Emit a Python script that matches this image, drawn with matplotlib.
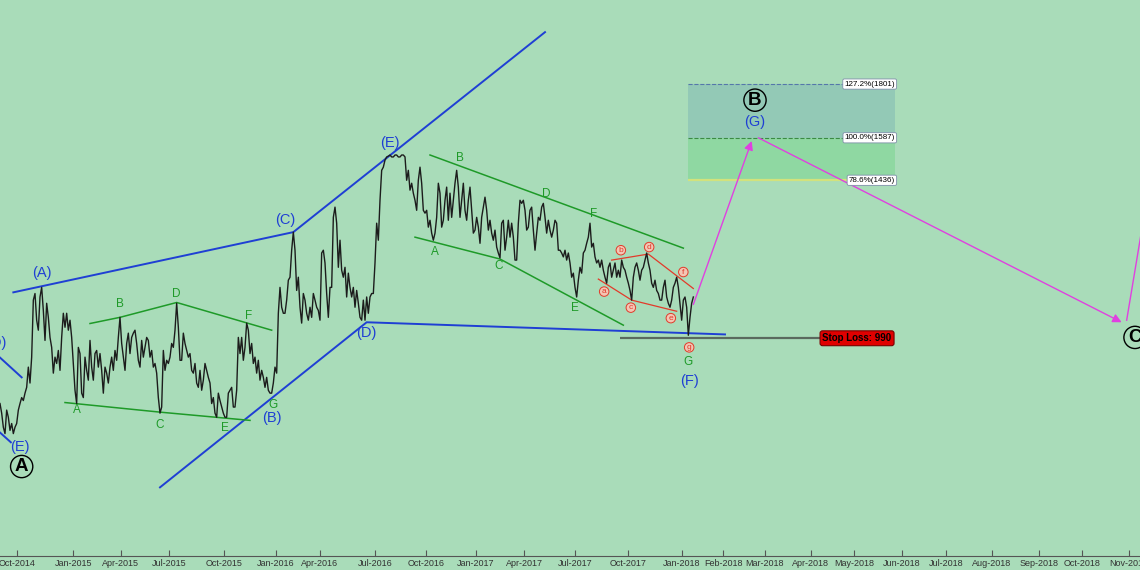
import numpy as np
import matplotlib
matplotlib.use('Agg')
import matplotlib.pyplot as plt

plt.rcParams['font.family'] = ['Liberation Sans', 'DejaVu Sans']

# closing price, one value every 2 bars
price = [
    849, 830, 803, 791, 836, 822, 797, 810, 791, 803, 810, 836, 849, 861, 855, 870, 882, 925, 891, 947,
    1083, 1100, 1033, 1009, 1091, 1116, 1057, 985, 1075, 1040, 992, 969, 912, 947, 933, 962, 918, 992, 1050, 1016,
    1050, 1009, 1033, 992, 933, 876, 849, 969, 955, 870, 861, 947, 918, 897, 985, 925, 897, 955, 962, 925,
    955, 918, 870, 925, 912, 891, 925, 947, 918, 962, 940, 992, 1040, 978, 947, 918, 978, 1002, 955, 992,
    1002, 1009, 978, 940, 925, 985, 947, 969, 992, 985, 947, 962, 925, 933, 912, 861, 830, 842, 962, 918,
    940, 933, 947, 978, 969, 1009, 1075, 1016, 940, 940, 1002, 978, 962, 947, 955, 918, 912, 933, 891, 882,
    918, 876, 897, 933, 918, 903, 891, 849, 861, 830, 822, 870, 855, 842, 830, 822, 822, 870, 876, 882,
    842, 842, 876, 992, 955, 992, 940, 969, 1026, 1009, 955, 978, 933, 947, 912, 940, 897, 918, 903, 882,
    903, 876, 870, 870, 891, 925, 912, 1050, 1116, 1065, 1050, 1050, 1083, 1135, 1143, 1218, 1271, 1218, 1108, 1143,
    1065, 1026, 1100, 1083, 1050, 1033, 1065, 1040, 1100, 1083, 1065, 1057, 1033, 1210, 1218, 1182, 1100, 1040, 1116, 1116,
    1316, 1348, 1298, 1170, 1247, 1162, 1143, 1170, 1091, 1154, 1116, 1091, 1116, 1065, 1108, 1075, 1040, 1033, 1083, 1033,
    1091, 1050, 1091, 1100, 1100, 1182, 1298, 1247, 1370, 1470, 1481, 1506, 1517, 1520, 1524, 1517, 1517, 1524, 1524, 1517,
    1517, 1524, 1524, 1517, 1436, 1470, 1403, 1426, 1393, 1370, 1338, 1436, 1481, 1426, 1338, 1329, 1338, 1286, 1307, 1268,
    1247, 1268, 1316, 1426, 1393, 1286, 1307, 1370, 1413, 1307, 1393, 1316, 1370, 1426, 1470, 1413, 1316, 1370, 1426, 1338,
    1307, 1370, 1413, 1338, 1268, 1277, 1316, 1286, 1238, 1316, 1348, 1380, 1338, 1277, 1307, 1268, 1247, 1277, 1227, 1210,
    1196, 1298, 1307, 1218, 1256, 1307, 1256, 1298, 1256, 1190, 1190, 1298, 1370, 1360, 1370, 1338, 1277, 1286, 1338, 1348,
    1277, 1218, 1268, 1316, 1307, 1348, 1360, 1316, 1268, 1307, 1277, 1256, 1277, 1307, 1298, 1218, 1218, 1210, 1199, 1218,
    1190, 1210, 1182, 1143, 1154, 1116, 1091, 1135, 1170, 1154, 1210, 1218, 1238, 1256, 1298, 1227, 1238, 1199, 1182, 1190,
    1170, 1190, 1162, 1143, 1127, 1170, 1182, 1143, 1162, 1182, 1143, 1162, 1143, 1190, 1170, 1162, 1143, 1127, 1108, 1083,
    1143, 1170, 1182, 1162, 1135, 1162, 1170, 1190, 1210, 1182, 1162, 1127, 1116, 1135, 1108, 1100, 1083, 1083, 1116, 1135,
    1091, 1075, 1065, 1083, 1116, 1127, 1143, 1116, 1075, 1033, 1083, 1091, 1065, 997, 1040, 1075, 1091,
]
bar_step = 2

tick_bars = [20, 88, 145, 203, 269, 331, 384, 450, 511, 571, 629, 690, 754, 818,
             868, 918, 973, 1025, 1082, 1135, 1190, 1247, 1298, 1355]
tick_labels = ['Oct-2014', 'Jan-2015', 'Apr-2015', 'Jul-2015', 'Oct-2015', 'Jan-2016',
               'Apr-2016', 'Jul-2016', 'Oct-2016', 'Jan-2017', 'Apr-2017', 'Jul-2017',
               'Oct-2017', 'Jan-2018', 'Feb-2018', 'Mar-2018', 'Apr-2018', 'May-2018',
               'Jun-2018', 'Jul-2018', 'Aug-2018', 'Sep-2018', 'Oct-2018', 'Nov-2018']

# trendlines as (bars, prices)
blue_lines = [
    ([16, 352, 654], [1103, 1271, 2035]),
    ([192, 440, 870], [697, 1028, 999]),
    ([0, 26], [946, 903]),
    ([0, 13], [793, 775]),
]
green_lines = [
    ([108, 144, 212, 326], [1025, 1040, 1077, 1009]),
    ([78, 192, 300], [851, 832, 816]),
    ([516, 820], [1524, 1224]),
    ([498, 600, 748], [1256, 1193, 1021]),
]
red_lines = [
    ([718, 758, 812], [1138, 1083, 1055]),
    ([734, 778, 832], [1190, 1207, 1113]),
]

blue_text = ['(A)', '(B)', '(C)', '(D)', '(E)', '(F)', '(E)', '(D)', '(G)']
blue_x = [50, 326, 342, 440, 468, 827, 24, -4, 906]
blue_y = [1154, 820, 1307, 1003, 1567, 895, 766, 979, 1647]

green_text = ['A', 'B', 'C', 'D', 'E', 'F', 'G', 'A', 'B', 'C', 'D', 'E', 'F', 'G']
green_x = [92, 144, 192, 212, 270, 298, 328, 522, 552, 598, 655, 690, 712, 826]
green_y = [836, 1072, 808, 1100, 801, 1044, 846, 1212, 1513, 1174, 1390, 1064, 1325, 936]

red_text = ['a', 'b', 'c', 'd', 'e', 'f', 'g']
red_x = [725, 745, 757, 779, 805, 820, 827]
red_y = [1105, 1218, 1064, 1227, 1038, 1157, 969]

big_text = ['A', 'B', 'C']
big_x = [26, 906, 1362]
big_y = [732, 1734, 992]

fib_levels = [1801, 1587, 1436]
fib_text = ['127.2%(1801)', '100.0%(1587)', '78.6%(1436)']
fib_x0, fib_x1 = 826, 1074

stop_loss = 990
stop_x0, stop_x1 = 744, 984

# projected path
arrow_paths = [((832, 1072), (902, 1575)), ((910, 1587), (1346, 1028))]
final_leg = ([1352, 1380], [1033, 1436])

bg = '#a9dcb9'
blue = '#1f3fd4'
green = '#1e9a28'
red = '#e23a2a'
magenta = '#e040e0'

fig = plt.figure(figsize=(11.4, 5.7), dpi=100)
fig.patch.set_facecolor(bg)
ax = fig.add_axes([0, 14 / 570, 1, 556 / 570])
ax.set_facecolor(bg)
ax.set_yscale('log')
ax.set_xlim(0, 1368)
ax.set_ylim(593, 2195)

# fibonacci zone
ax.fill_between([fib_x0, fib_x1], fib_levels[1], fib_levels[0], color='#93c9b6', lw=0, zorder=1)
ax.fill_between([fib_x0, fib_x1], fib_levels[2], fib_levels[1], color='#8fd8a2', lw=0, zorder=1)
ax.hlines(fib_levels[0], fib_x0, fib_x1, colors='#5577aa', linestyles='--', lw=0.8, zorder=2)
ax.hlines(fib_levels[1], fib_x0, fib_x1, colors='#3b8a45', linestyles='--', lw=0.8, zorder=2)
ax.hlines(fib_levels[2], fib_x0, fib_x1, colors='#d2e27c', lw=1.6, zorder=2)
for lvl, t in zip(fib_levels, fib_text):
    ax.text(fib_x1, lvl, t, fontsize=5.8, ha='right', va='center', zorder=6,
            bbox=dict(boxstyle='round,pad=0.2', fc='white', ec='#7f8faa', lw=0.6))

x = np.arange(len(price)) * bar_step
ax.plot(x, price, color='#1c1c1c', lw=1.0, zorder=4)

for xs, ys in blue_lines:
    ax.plot(xs, ys, color=blue, lw=1.4, zorder=3)
for xs, ys in green_lines:
    ax.plot(xs, ys, color=green, lw=1.1, zorder=3)
for xs, ys in red_lines:
    ax.plot(xs, ys, color=red, lw=0.9, zorder=3)

# stop loss
ax.hlines(stop_loss, stop_x0, stop_x1, colors='#5a6a5e', lw=1.6, zorder=3)
ax.text(stop_x1 + 3, stop_loss, 'Stop Loss: 990', fontsize=7, fontweight='bold', ha='left',
        va='center', zorder=6, bbox=dict(boxstyle='round,pad=0.25', fc='#e00000', ec='#7a0000', lw=0.8))

for (x0, y0), (x1, y1) in arrow_paths:
    ax.annotate('', xy=(x1, y1), xytext=(x0, y0), zorder=5,
                arrowprops=dict(arrowstyle='-|>', color=magenta, lw=1.0, mutation_scale=13,
                                shrinkA=0, shrinkB=0))
ax.plot(final_leg[0], final_leg[1], color=magenta, lw=1.0, zorder=5)

for t, xx, yy in zip(blue_text, blue_x, blue_y):
    ax.text(xx, yy, t, color=blue, fontsize=10.5, ha='center', va='center', zorder=6, clip_on=False)
for t, xx, yy in zip(green_text, green_x, green_y):
    ax.text(xx, yy, t, color=green, fontsize=8.5, ha='center', va='center', zorder=6)
for t, xx, yy in zip(red_text, red_x, red_y):
    ax.text(xx, yy, t, color=red, fontsize=6, ha='center', va='center', zorder=6,
            bbox=dict(boxstyle='circle,pad=0.15', fc='#f3c6b4', ec=red, lw=0.7))
for t, xx, yy in zip(big_text, big_x, big_y):
    ax.text(xx, yy, t, color='black', fontsize=13.5, fontweight='bold', ha='center', va='center',
            zorder=6, bbox=dict(boxstyle='circle,pad=0.14', fc='none', ec='black', lw=1.0))

ax.set_xticks(tick_bars)
ax.set_xticklabels(tick_labels, fontsize=6.5, color='#333333')
ax.tick_params(axis='x', direction='in', length=4, color='#555555', pad=2)
ax.set_yticks([])
ax.yaxis.set_minor_locator(matplotlib.ticker.NullLocator())
for s in ['top', 'left', 'right']:
    ax.spines[s].set_visible(False)
ax.spines['bottom'].set_color('#555555')

fig.savefig('out.png', dpi=100, facecolor=bg)
